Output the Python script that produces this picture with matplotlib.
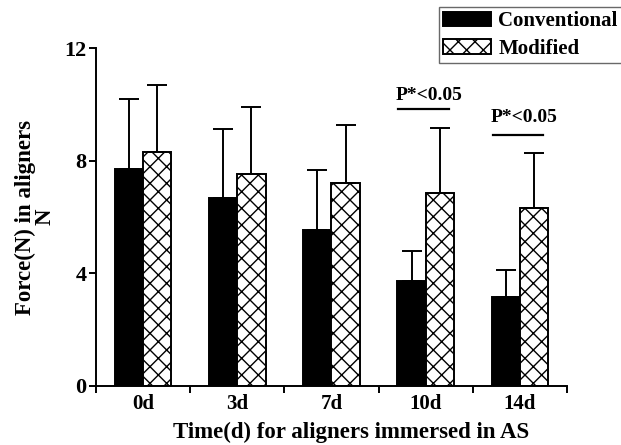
import numpy as np
import matplotlib
matplotlib.use("Agg")
import matplotlib.pyplot as plt

plt.rcParams['font.family'] = ['Liberation Serif', 'DejaVu Serif']
plt.rcParams['font.weight'] = 'bold'
plt.rcParams['hatch.linewidth'] = 1.0

## data
days = ['0d', '3d', '7d', '10d', '14d']
conventional = [7.7, 6.67, 5.53, 3.72, 3.16]
conventional_sd = [2.48, 2.44, 2.13, 1.07, 0.95]
modified = [8.3, 7.52, 7.2, 6.84, 6.31]
modified_sd = [2.4, 2.38, 2.06, 2.31, 1.95]
sig_groups = [3, 4]
sig_line_y = [9.82, 8.9]
sig_text_y = [10.14, 9.36]
sig_text = 'P*<0.05'

fig = plt.figure(figsize=(6.21, 4.45), dpi=100)
ax = fig.add_axes([0.1546, 0.1326, 0.7584, 0.7594])

x = np.arange(len(days))
w = 0.3
err_kw = dict(capsize=7, elinewidth=1.4, capthick=1.4, ecolor='black')
ax.bar(x - w / 2, conventional, w, color='black', edgecolor='black', linewidth=1.4,
       yerr=[np.zeros(len(days)), conventional_sd], error_kw=err_kw, label='Conventional')
ax.bar(x + w / 2, modified, w, color='white', edgecolor='black', linewidth=1.4, hatch='xx',
       yerr=[np.zeros(len(days)), modified_sd], error_kw=err_kw, label='Modified')

# significance marks
for g, ly, ty in zip(sig_groups, sig_line_y, sig_text_y):
    ax.plot([g - 0.29, g + 0.245], [ly, ly], color='black', lw=1.6, clip_on=False)
    ax.text(g + 0.04, ty, sig_text, ha='center', va='baseline', fontsize=14, fontweight='bold')

ax.set_xlim(-0.5, len(days) - 0.5)
ax.set_ylim(0, 12)
ax.set_yticks([0, 4, 8, 12])
ax.set_xticks(x)
ax.set_xticklabels(days, fontsize=15)
ax.set_xticks(np.arange(len(days) + 1) - 0.5, minor=True)
ax.tick_params(axis='x', which='major', length=0, pad=6)
ax.tick_params(axis='x', which='minor', length=5, width=1.4)
ax.tick_params(axis='y', length=5, width=1.4, labelsize=16, pad=2)

for s in ['top', 'right']:
    ax.spines[s].set_visible(False)
for s in ['left', 'bottom']:
    ax.spines[s].set_linewidth(1.4)

ax.set_xlabel('Time(d) for aligners immersed in AS', fontsize=16.5, fontweight='bold')
ax.xaxis.set_label_coords(0.542, -0.105)
ax.set_ylabel('Force(N) in aligners\nN', fontsize=16.5, fontweight='bold', labelpad=6, linespacing=0.95)

leg = fig.legend(loc='upper left', bbox_to_anchor=(0.707, 0.984), fontsize=15, frameon=True,
                 fancybox=False, edgecolor='#444444', handlelength=2.3, handleheight=0.7,
                 handletextpad=0.35, borderpad=0.2, labelspacing=0.35, borderaxespad=0)
leg.get_frame().set_linewidth(1.0)

fig.savefig('out.png', dpi=100)
